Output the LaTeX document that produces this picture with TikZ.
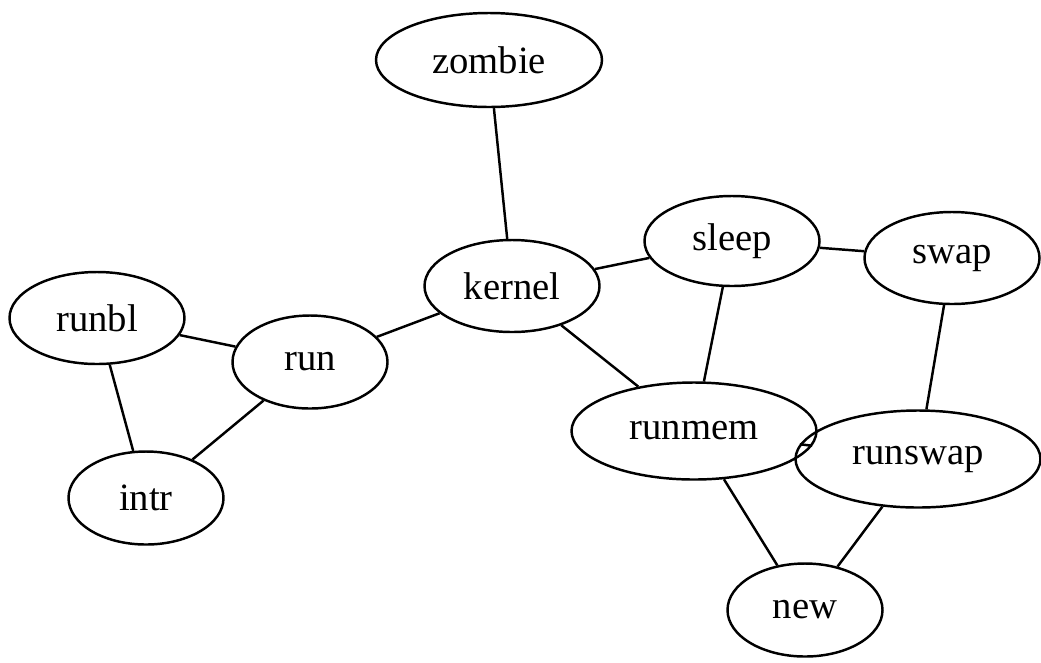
\documentclass[tikz,border=0pt]{standalone}
\usepackage{fontspec}
\setmainfont{Liberation Serif}
\usetikzlibrary{shapes.geometric}

\begin{document}
\begin{tikzpicture}[
	proc/.style = {shape=ellipse, draw, inner sep=0pt,
	line width=1.4pt, font=\fontsize{22}{26}\selectfont},
	small/.style = {minimum width=3.1cm, minimum height=1.86cm},
	mid/.style = {minimum width=3.5cm, minimum height=1.84cm},
	wide/.style = {minimum width=4.9cm, minimum height=1.94cm},
	link/.style = {draw, line width=1.4pt}
]
\useasboundingbox (0,0) rectangle (20.82,-13.24);
\node[proc, minimum width=4.52cm, minimum height=1.88cm] (zombie) at (9.78,-1.20) {zombie};
\node[proc, mid] (kernel) at (10.24,-5.72) {kernel};
\node[proc, mid, minimum height=1.8cm] (sleep) at (14.64,-4.82) {sleep};
\node[proc, mid] (swap) at (19.04,-5.16) {swap};
\node[proc, mid] (runbl) at (1.94,-6.36) {runbl};
\node[proc, small] (run) at (6.2,-7.24) {run};
\node[proc, small] (intr) at (2.92,-9.96) {intr};
\node[proc, wide] (runmem) at (13.88,-8.62) {runmem};
\node[proc, wide] (runswap) at (18.36,-9.18) {runswap};
\node[proc, small] (new) at (16.1,-12.2) {new};

\path[link] (zombie) -- (kernel);
\path[link] (kernel) -- (sleep);
\path[link] (kernel) -- (run);
\path[link] (kernel) -- (runmem);
\path[link] (sleep) -- (swap);
\path[link] (sleep) -- (runmem);
\path[link] (swap) -- (runswap);
\path[link] (runmem) -- (runswap);
\path[link] (runbl) -- (run);
\path[link] (runbl) -- (intr);
\path[link] (run) -- (intr);
\path[link] (runmem) -- (new);
\path[link] (runswap) -- (new);
\end{tikzpicture}
\end{document}
